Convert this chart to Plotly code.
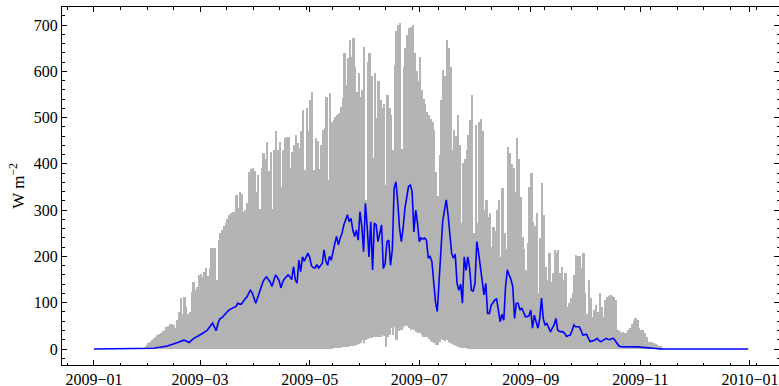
import pandas as pd
import plotly.graph_objects as go

YEAR_START = "2009-01-01"

# Daily maximum of hourly radiation (W m^-2), Jan 1 .. Dec 31 2009
daily_max = (
    [0] * 27
    + [2, 5, 9, 13, 16, 20, 24, 27, 30, 33, 35, 38, 42, 48]
    + [50, 55, 53, 52, 45, 63, 80, 110, 75, 113]
    + [90, 75, 80, 124, 145, 128, 133, 160, 163, 156]
    + [167, 174, 158, 174, 218, 218, 218, 149, 235, 250]
    + [257, 265, 272, 280, 289, 293, 297, 297, 333, 305]
    + [340, 335, 296, 300, 315, 383, 388, 390, 385, 340]
    + [376, 303, 390, 423, 410, 448, 385, 425, 303, 430]
    + [470, 430, 448, 351, 430, 455, 459, 458, 390, 426]
    + [440, 462, 445, 434, 470, 516, 387, 520, 470, 538]
    + [556, 387, 456, 450, 389, 440, 473, 478, 545, 365]
    + [553, 490, 495, 502, 505, 510, 523, 542, 639, 570]
    + [628, 668, 630, 671, 610, 556, 596, 545, 560, 653]
    + [322, 620, 639, 590, 412, 596, 500, 578, 538, 520]
    + [530, 354, 549, 520, 505, 430, 614, 686, 700, 704]
    + [433, 610, 650, 678, 693, 695, 700, 639, 600, 578]
    + [630, 560, 540, 530, 513, 505, 498, 490, 473, 383]
    + [330, 420, 538, 603, 590, 668, 650, 610, 430, 473]
    + [460, 506, 440, 272, 401, 410, 430, 462, 495, 549]
    + [251, 484, 272, 490, 498, 470, 300, 322, 285, 294]
    + [221, 264, 255, 300, 322, 199, 347, 250, 215, 437]
    + [423, 400, 390, 340, 455, 410, 329, 243, 215, 171]
    + [230, 351, 380, 275, 265, 293, 120, 240, 358, 290]
    + [178, 150, 207, 145, 165, 214, 207, 214, 165, 178]
    + [150, 165, 91, 100, 110, 120, 160, 203, 200, 200]
    + [175, 207, 120, 75, 149, 110, 70, 85, 95, 80]
    + [120, 90, 70, 105, 113, 115, 117, 115, 113, 105]
    + [41, 38, 34, 36, 35, 34, 40, 45, 55, 60]
    + [66, 62, 45, 42, 41, 34, 25, 16, 16, 15]
    + [14, 11, 9, 7, 6, 2]
    + [0] * 48
)

# Daily mean (W m^-2)
daily_mean = (
    [0] * 28
    + [0.3, 0.5, 0.8, 1, 1.3, 1.5, 2, 2.5, 3, 3.3, 3.6, 4, 5]
    + [6.5, 8, 9, 10, 11.5, 13, 14.5, 16, 17.5, 19]
    + [18, 16, 14, 18, 22, 24, 26, 28, 30, 33]
    + [35, 38, 40, 46, 52, 56, 47, 40, 55, 65]
    + [67, 72, 77, 80, 84, 86, 88, 89, 92, 99]
    + [97, 97, 103, 108, 112, 120, 127, 122, 108, 99]
    + [110, 122, 135, 145, 152, 156, 150, 145, 135, 150]
    + [160, 155, 148, 132, 145, 152, 156, 160, 156, 150]
    + [178, 150, 142, 192, 167, 199, 190, 200, 207, 198]
    + [180, 176, 175, 182, 175, 180, 185, 214, 190, 181]
    + [200, 192, 214, 228, 243, 225, 240, 250, 268, 279]
    + [290, 275, 282, 257, 243, 257, 235, 297, 265, 210]
    + [315, 265, 199, 275, 171, 272, 268, 232, 250, 268]
    + [174, 185, 232, 235, 181, 215, 347, 361, 318, 261]
    + [232, 261, 304, 333, 351, 354, 340, 253, 300, 272]
    + [232, 240, 238, 240, 235, 196, 200, 189, 145, 102]
    + [81, 150, 220, 275, 300, 322, 290, 243, 207, 196]
    + [205, 142, 127, 140, 99, 199, 170, 199, 175, 127]
    + [125, 142, 232, 207, 178, 150, 117, 142, 77, 77]
    + [95, 100, 106, 108, 84, 59, 75, 62, 135, 171]
    + [160, 150, 135, 66, 99, 99, 84, 88, 80, 70]
    + [70, 72, 84, 45, 73, 60, 45, 65, 110, 65]
    + [52, 55, 45, 37, 45, 52, 66, 41, 38, 37]
    + [37, 33, 27, 29, 30, 40, 52, 48, 48, 48]
    + [40, 30, 31, 32, 24, 16, 17, 18, 20, 23]
    + [18, 16, 18, 20, 23, 21, 20, 22, 23, 18]
    + [12, 7, 5, 5, 5, 5, 5, 5, 5.5, 6]
    + [6, 5, 4.5, 4, 3.5, 3, 2.5, 2, 1.5, 1.2]
    + [1, 0.8, 0.6, 0.4, 0.3, 0.2, 0.1]
    + [0] * 47
)

# Daily minimum (W m^-2) - midnight sun in summer
daily_min = (
    [0] * 129
    + [0, 0.5, 1, 1, 1.5, 2, 2, 3, 3, 4]
    + [4, 5, 5, 6, 6, 7, 8, 8, 10, 13]
    + [19, 12, 20, 22, 24, 23, 25, 26, 27, 25]
    + [27, 30, 28, 5, 26, 30, 45, 30, 48, 20]
    + [38, 40, 42, 48, 52, 50, 45, 42, 44, 40]
    + [36, 35, 34, 30, 27, 26, 25, 22, 18, 15]
    + [13, 9, 8, 15, 22, 20, 18, 19, 15, 13]
    + [10, 8, 6, 5, 4, 3, 2.5, 2, 1.5, 1]
    + [1, 0.5, 0.5, 0.3, 0.2, 0.1, 0]
    + [0] * 149
)

x_tick_vals = ["2009-01-01", "2009-03-01", "2009-05-01", "2009-07-01",
               "2009-09-01", "2009-11-01", "2010-01-01"]
x_tick_text = ["2009\u221201", "2009\u221203", "2009\u221205", "2009\u221207",
               "2009\u221209", "2009\u221211", "2010\u221201"]
y_tick_vals = [0, 100, 200, 300, 400, 500, 600, 700]

FONT = "Liberation Serif"
GRAY = "#b3b3b3"

days = pd.date_range(YEAR_START, periods=len(daily_mean), freq="D")
bar_centers = days + pd.Timedelta(hours=12)
heights = [mx - mn for mx, mn in zip(daily_max, daily_min)]

fig = go.Figure()
fig.add_trace(go.Bar(
    x=bar_centers, y=heights, base=daily_min,
    width=86400000,
    marker=dict(color=GRAY, line=dict(width=0)),
    hoverinfo="skip",
))
fig.add_trace(go.Scatter(
    x=days, y=daily_mean, mode="lines",
    line=dict(color="#0000ff", width=1.6),
))

t0 = pd.Timestamp(YEAR_START)
x_lo = (t0 - pd.Timedelta(days=17.8)).isoformat()
x_hi = (pd.Timestamp("2010-01-01") + pd.Timedelta(days=16.14)).isoformat()

fig.update_layout(
    width=779, height=386,
    margin=dict(l=62, r=0, t=7, b=21),
    plot_bgcolor="white", paper_bgcolor="white",
    showlegend=False, bargap=0,
    font=dict(family=FONT, size=16, color="black"),
    annotations=[dict(
        text="W m<sup>\u22122</sup>", xref="paper", yref="paper",
        x=-0.063, y=0.5, xanchor="center", yanchor="middle",
        textangle=-90, showarrow=False,
        font=dict(family=FONT, size=17, color="black"),
    )],
)

fig.update_xaxes(
    type="date", range=[x_lo, x_hi],
    tickmode="array", tickvals=x_tick_vals, ticktext=x_tick_text,
    ticks="inside", ticklen=5, tickwidth=0.8, tickcolor="black",
    showline=True, linecolor="black", linewidth=1, mirror="ticks",
    showgrid=False, zeroline=False, automargin=False,
    tickfont=dict(family=FONT, size=16, color="black"),
    minor=dict(ticks="inside", ticklen=2.5, tickwidth=0.8, tickcolor="black",
               tickmode="linear", tick0=YEAR_START, dtick=14.75 * 86400000,
               showgrid=False),
)
fig.update_yaxes(
    range=[-34.57, 738.9],
    tickmode="array", tickvals=y_tick_vals,
    ticks="inside", ticklen=5, tickwidth=0.8, tickcolor="black",
    showline=True, linecolor="black", linewidth=1, mirror="ticks",
    showgrid=False, zeroline=False, automargin=False,
    tickfont=dict(family=FONT, size=16, color="black"),
    minor=dict(ticks="inside", ticklen=2.5, tickwidth=0.8, tickcolor="black",
               tickmode="linear", tick0=0, dtick=20, showgrid=False),
)

fig.write_html(
    "out.html",
    config={"displayModeBar": False},
    post_script="document.body.style.margin='0';document.body.style.overflow='hidden';",
)
